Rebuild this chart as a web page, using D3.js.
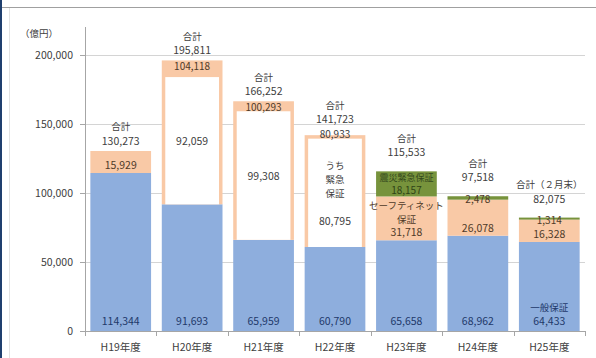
<!DOCTYPE html>
<html>
<head>
<meta charset="utf-8">
<script src="https://d3js.org/d3.v7.min.js"></script>
<style>
  body { margin: 0; background: #fff; }
  text { font-family: "Noto Sans CJK JP", "Noto Sans", sans-serif; }
</style>
</head>
<body>
<script>
// Data (億円)
var categories = ["H19年度", "H20年度", "H21年度", "H22年度", "H23年度", "H24年度", "H25年度"];
var general = [114344, 91693, 65959, 60790, 65658, 68962, 64433];     // 一般保証
var safetyNet = [15929, 104118, 100293, 80933, 31718, 26078, 16328];  // セーフティネット保証
var emergency = [0, 92059, 99308, 80795, 0, 0, 0];                    // うち緊急保証
var emergencyNote = [null, null, null, ["うち", "緊急", "保証"], null, null, null];
var disaster = [0, 0, 0, 0, 18157, 2478, 1314];                       // 震災緊急保証
var totals = [130273, 195811, 166252, 141723, 115533, 97518, 82075];
var totalTitles = ["合計", "合計", "合計", "合計", "合計", "合計", "合計（２月末）"];
var yTicks = [0, 50000, 100000, 150000, 200000];

var W = 596, H = 358;
var blue = "#8eaedd", peach = "#f9c9a6", green = "#77933c";
var fmt = d3.format(",");

var svg = d3.select("body").append("svg")
    .attr("width", W)
    .attr("height", H);

// frame
svg.append("rect").attr("width", W).attr("height", H).attr("fill", "#fff");
svg.append("line").attr("x1", 2).attr("x2", W).attr("y1", 7.5).attr("y2", 7.5)
    .attr("stroke", "#a0a0a0");
svg.append("line").attr("x1", 9.5).attr("x2", 9.5).attr("y1", 8).attr("y2", H)
    .attr("stroke", "#e2e2e2");
svg.append("line").attr("x1", 1).attr("x2", 1).attr("y1", 0).attr("y2", H)
    .attr("stroke", "#1f3f6e").attr("stroke-width", 2);

var x = d3.scaleBand().domain(categories).range([85, 585])
    .paddingInner(0.15).paddingOuter(0.075);
var y = d3.scaleLinear().domain([0, 220000]).range([331, 27]);
var bw = x.bandwidth();

// gridlines
svg.selectAll(".grid")
    .data(yTicks.slice(1))
    .enter()
    .append("line")
    .attr("x1", 85).attr("x2", 585)
    .attr("y1", function(d) { return Math.round(y(d)) + 0.5; })
    .attr("y2", function(d) { return Math.round(y(d)) + 0.5; })
    .attr("stroke", "#d4d4d4");

var rows = categories.map(function(c, i) {
    return { cat: c, i: i, g: general[i], s: safetyNet[i], e: emergency[i], d: disaster[i], t: totals[i],
             note: emergencyNote[i] };
});

var bars = svg.selectAll(".bar")
    .data(rows)
    .enter()
    .append("g");

// 一般保証
bars.append("rect")
    .attr("x", function(d) { return x(d.cat); })
    .attr("width", bw)
    .attr("y", function(d) { return y(d.g); })
    .attr("height", function(d) { return y(0) - y(d.g); })
    .attr("fill", blue);

// セーフティネット保証
bars.append("rect")
    .attr("x", function(d) { return x(d.cat); })
    .attr("width", bw)
    .attr("y", function(d) { return y(d.g + d.s); })
    .attr("height", function(d) { return y(d.g) - y(d.g + d.s); })
    .attr("fill", peach);

// うち緊急保証 (white box inside the safety-net segment)
function whiteTop(d) {
    var top = y(d.g + d.s);
    var band = d.note ? 3.5 : 10;   // room for the label band when the label sits inside
    return Math.max(y(d.g + d.e), top + band);
}
bars.filter(function(d) { return d.e > 0; })
    .append("rect")
    .attr("x", function(d) { return x(d.cat) + 3.5; })
    .attr("width", bw - 7)
    .attr("y", whiteTop)
    .attr("height", function(d) { return y(d.g) - whiteTop(d); })
    .attr("fill", "#fff");

// 震災緊急保証
bars.filter(function(d) { return d.d > 0; })
    .append("rect")
    .attr("x", function(d) { return x(d.cat); })
    .attr("width", bw)
    .attr("y", function(d) { return y(d.g + d.s + d.d); })
    .attr("height", function(d) { return Math.max(2, y(d.g + d.s) - y(d.g + d.s + d.d)); })
    .attr("fill", green);

// axes
svg.append("line").attr("x1", 85.5).attr("x2", 85.5).attr("y1", y(220000)).attr("y2", y(0))
    .attr("stroke", "#a6a6a6");
svg.append("line").attr("x1", 85).attr("x2", 585).attr("y1", y(0) + 0.5).attr("y2", y(0) + 0.5)
    .attr("stroke", "#a6a6a6");

svg.selectAll(".ytick")
    .data(yTicks)
    .enter()
    .append("line")
    .attr("x1", 80).attr("x2", 85)
    .attr("y1", function(d) { return Math.round(y(d)) + 0.5; })
    .attr("y2", function(d) { return Math.round(y(d)) + 0.5; })
    .attr("stroke", "#a6a6a6");

svg.selectAll(".ylab")
    .data(yTicks)
    .enter()
    .append("text")
    .attr("x", 73)
    .attr("y", function(d) { return y(d) + 4; })
    .attr("text-anchor", "end")
    .attr("font-size", 10.5)
    .attr("fill", "#404040")
    .text(function(d) { return fmt(d); });

var step = x.step();
var bounds = categories.map(function(c) { return x(c) - step * 0.075; });
bounds.push(585);
svg.selectAll(".xtick")
    .data(bounds)
    .enter()
    .append("line")
    .attr("x1", function(d) { return Math.round(d) + 0.5; })
    .attr("x2", function(d) { return Math.round(d) + 0.5; })
    .attr("y1", y(0)).attr("y2", y(0) + 5)
    .attr("stroke", "#a6a6a6");

svg.selectAll(".xlab")
    .data(categories)
    .enter()
    .append("text")
    .attr("x", function(d) { return x(d) + bw / 2; })
    .attr("y", 351)
    .attr("text-anchor", "middle")
    .attr("font-size", 10.5)
    .attr("fill", "#404040")
    .text(function(d) { return d; });

svg.append("text")
    .attr("x", 20).attr("y", 37)
    .attr("font-size", 9.5)
    .attr("fill", "#404040")
    .text("（億円）");

// labels
function label(d, str, yy, color, size) {
    svg.append("text")
        .attr("x", x(d.cat) + bw / 2)
        .attr("y", yy)
        .attr("text-anchor", "middle")
        .attr("font-size", size || 10.5)
        .attr("fill", color)
        .text(str);
}

rows.forEach(function(d) {
    var top = y(d.t);
    var segTop = y(d.g + d.s), segBot = y(d.g);

    // 一般保証
    label(d, fmt(d.g), y(0) - 6, "#22396a");
    if (d.i == categories.length - 1) label(d, "一般保証", y(0) - 20.5, "#22396a", 9.5);

    // セーフティネット保証 / 緊急保証
    var totalGap = 6;
    if (d.e > 0) {
        var wt = whiteTop(d);
        if (!d.note) {
            label(d, fmt(d.s), segTop + 10, "#4f3a28", 10);
            label(d, fmt(d.e), (wt + segBot) / 2 + 4, "#404040");
        } else {
            label(d, fmt(d.s), segTop + 2.5, "#404040", 10);
            totalGap = 12;
            var vb = segBot - 22;
            label(d, fmt(d.e), vb, "#404040");
            d.note.slice().reverse().forEach(function(t, k) {
                label(d, t, vb - 28 - k * 14, "#404040", 9.5);
            });
        }
    } else {
        label(d, fmt(d.s), segBot - 4, "#4f3a28");
    }

    // 震災緊急保証
    if (d.d > 0) {
        totalGap = 15;
        if (segTop - top > 12) {
            label(d, fmt(d.d), segTop - 2, "#2f4416", 10);
            label(d, "震災緊急保証", segTop - 15.5, "#34491c", 9);
            label(d, "保証", segBot - 17.5, "#4f3a28", 9.5);
            label(d, "セーフティネット", segBot - 31, "#4f3a28", 9.5);
        } else {
            label(d, fmt(d.d), top + 6.5, "#4f3a28", 10);
        }
    }

    // 合計
    label(d, fmt(d.t), top - totalGap, "#404040");
    label(d, totalTitles[d.i], top - totalGap - 14.5, "#404040", 9.5);
});
</script>
</body>
</html>
